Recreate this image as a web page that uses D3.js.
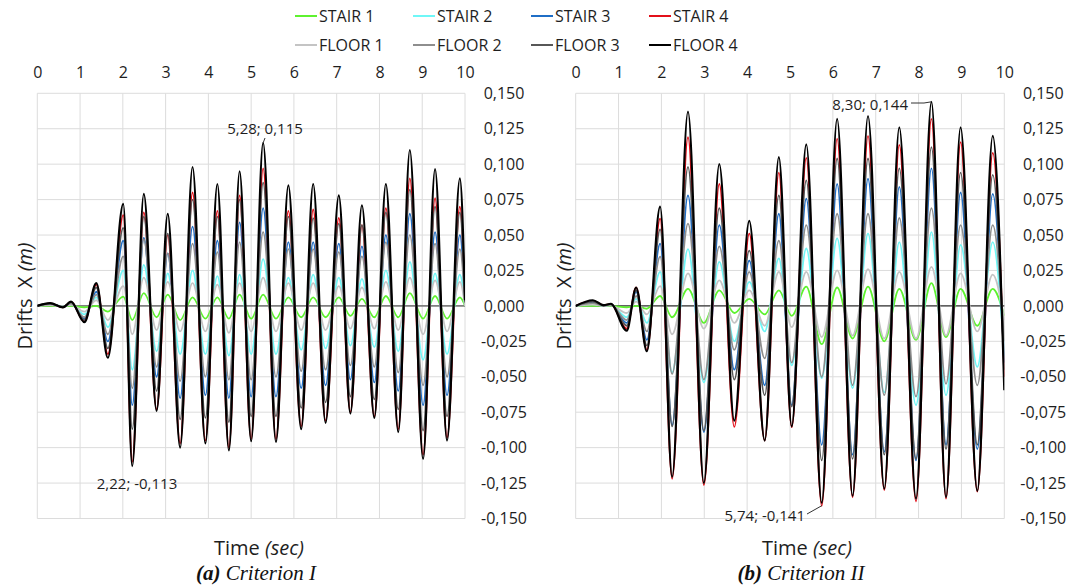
<!DOCTYPE html>
<html>
<head>
<meta charset="utf-8">
<script src="https://cdn.jsdelivr.net/npm/d3@7"></script>
<style>
  html, body { margin: 0; padding: 0; background: #ffffff; }
  svg { display: block; font-family: "Open Sans", "Noto Sans", sans-serif; }
</style>
</head>
<body>
<svg id="chart" width="1067" height="587"></svg>
<script>
// ---- axis ticks ----
const timeTicks = [0, 1, 2, 3, 4, 5, 6, 7, 8, 9, 10];
const driftTicks = [0.150, 0.125, 0.100, 0.075, 0.050, 0.025, 0, -0.025, -0.050, -0.075, -0.100, -0.125, -0.150];

// ---- series ----
const seriesNames = ["STAIR 1", "STAIR 2", "STAIR 3", "STAIR 4", "FLOOR 1", "FLOOR 2", "FLOOR 3", "FLOOR 4"];

// Criterion I: times of the turning points (s) and drifts (m)
const timeI = [0, 0.3, 0.6, 0.79, 1.1, 1.38, 1.65,
  2.01, 2.22, 2.49, 2.79, 3.05, 3.34, 3.63, 3.93, 4.21, 4.48, 4.73, 5.00, 5.28, 5.58,
  5.87, 6.17, 6.45, 6.74, 7.05, 7.32, 7.59, 7.88, 8.15, 8.44, 8.71, 9.02, 9.30, 9.58,
  9.88, 10];
const stair1I = [0, 0, 0, 0, -0.001, 0, -0.004,
  0.0066, -0.010, 0.009, -0.008, 0.008, -0.010, 0.006, -0.009, 0.006, -0.009, 0.008, -0.009, 0.008, -0.009,
  0.006, -0.008, 0.006, -0.008, 0.006, -0.007, 0.005, -0.008, 0.007, -0.008, 0.009, -0.009, 0.007, -0.009,
  0.006, 0];
const stair2I = [0, 0.001, -0.0004, 0.0012, -0.006, 0.006, -0.015,
  0.025, -0.045, 0.029, -0.032, 0.023, -0.034, 0.025, -0.034, 0.021, -0.035, 0.022, -0.034, 0.033, -0.034,
  0.020, -0.031, 0.022, -0.030, 0.020, -0.028, 0.019, -0.029, 0.025, -0.032, 0.031, -0.038, 0.023, -0.034,
  0.022, 0];
const stair3I = [0, 0.0014, -0.0006, 0.002, -0.009, 0.010, -0.025,
  0.046, -0.070, 0.048, -0.050, 0.037, -0.065, 0.056, -0.063, 0.046, -0.065, 0.059, -0.064, 0.069, -0.064,
  0.045, -0.058, 0.045, -0.056, 0.044, -0.052, 0.042, -0.054, 0.050, -0.060, 0.065, -0.070, 0.052, -0.063,
  0.050, 0.002];
const stair4I = [0, 0.0018, -0.001, 0.0028, -0.011, 0.015, -0.034,
  0.064, -0.110, 0.066, -0.073, 0.050, -0.097, 0.080, -0.095, 0.067, -0.100, 0.078, -0.094, 0.097, -0.094,
  0.067, -0.085, 0.068, -0.081, 0.062, -0.075, 0.057, -0.078, 0.069, -0.087, 0.090, -0.105, 0.076, -0.093,
  0.070, 0.004];
const floor1I = [0, 0.0006, -0.0002, 0.0008, -0.004, 0.004, -0.010,
  0.014, -0.020, 0.020, -0.017, 0.017, -0.018, 0.016, -0.018, 0.015, -0.019, 0.016, -0.018, 0.020, -0.018,
  0.016, -0.017, 0.016, -0.017, 0.014, -0.016, 0.013, -0.016, 0.017, -0.017, 0.020, -0.020, 0.018, -0.018,
  0.017, 0];
const floor2I = [0, 0.0012, -0.0005, 0.0016, -0.008, 0.008, -0.020,
  0.035, -0.058, 0.047, -0.043, 0.037, -0.053, 0.044, -0.050, 0.038, -0.052, 0.045, -0.052, 0.052, -0.050,
  0.040, -0.046, 0.040, -0.045, 0.038, -0.042, 0.035, -0.043, 0.045, -0.047, 0.050, -0.056, 0.044, -0.050,
  0.040, 0.002];
const floor3I = [0, 0.0017, -0.0008, 0.0025, -0.010, 0.013, -0.030,
  0.055, -0.087, 0.063, -0.060, 0.051, -0.080, 0.075, -0.079, 0.063, -0.082, 0.075, -0.078, 0.087, -0.078,
  0.063, -0.072, 0.062, -0.068, 0.058, -0.064, 0.057, -0.066, 0.066, -0.073, 0.082, -0.088, 0.070, -0.078,
  0.066, 0.003];
const floor4I = [0, 0.002, -0.001, 0.003, -0.0115, 0.016, -0.0366,
  0.072, -0.113, 0.079, -0.074, 0.065, -0.100, 0.098, -0.097, 0.086, -0.102, 0.095, -0.0955, 0.115, -0.096,
  0.085, -0.087, 0.086, -0.0825, 0.078, -0.076, 0.071, -0.079, 0.086, -0.089, 0.110, -0.108, 0.0965, -0.095,
  0.090, 0.004];

// Criterion II
const timeII = [0, 0.4, 0.65, 0.82, 1.19, 1.41, 1.66,
  1.97, 2.25, 2.62, 2.99, 3.35, 3.70, 4.05, 4.41, 4.74, 5.04, 5.38, 5.74,
  6.10, 6.46, 6.82, 7.20, 7.55, 7.94, 8.30, 8.64, 8.98, 9.37,
  9.73, 10];
const stair1II = [0, 0, 0, 0, -0.001, 0, -0.002,
  0.007, -0.008, 0.012, -0.012, 0.011, -0.005, 0.005, -0.006, 0.011, -0.007, 0.0136, -0.027,
  0.013, -0.023, 0.0136, -0.025, 0.012, -0.024, 0.016, -0.022, 0.012, -0.014,
  0.012, -0.007];
const stair2II = [0, 0.0015, 0.0001, 0.0006, -0.008, 0.005, -0.012,
  0.024, -0.047, 0.040, -0.054, 0.031, -0.025, 0.017, -0.018, 0.0335, -0.042, 0.0405, -0.051,
  0.0476, -0.058, 0.051, -0.061, 0.045, -0.070, 0.052, -0.063, 0.043, -0.043,
  0.045, -0.035];
const stair3II = [0, 0.0025, 0.0002, 0.001, -0.012, 0.010, -0.024,
  0.044, -0.084, 0.078, -0.089, 0.057, -0.045, 0.032, -0.056, 0.065, -0.070, 0.0757, -0.098,
  0.086, -0.105, 0.0897, -0.103, 0.084, -0.109, 0.097, -0.098, 0.080, -0.101,
  0.079, -0.040];
const stair4II = [0, 0.0035, 0.0004, 0.0013, -0.016, 0.013, -0.031,
  0.0616, -0.122, 0.119, -0.1265, 0.086, -0.0854, 0.051, -0.095, 0.094, -0.0856, 0.1045, -0.141,
  0.118, -0.135, 0.120, -0.130, 0.1136, -0.138, 0.132, -0.136, 0.1155, -0.131,
  0.108, -0.050];
const floor1II = [0, 0.001, 0, 0.0004, -0.005, 0.003, -0.006,
  0.014, -0.020, 0.023, -0.016, 0.018, -0.012, 0.011, -0.014, 0.024, -0.015, 0.024, -0.022,
  0.025, -0.021, 0.026, -0.023, 0.024, -0.023, 0.0276, -0.021, 0.023, -0.018,
  0.022, -0.010];
const floor2II = [0, 0.002, 0.0002, 0.0008, -0.010, 0.007, -0.018,
  0.0347, -0.048, 0.058, -0.052, 0.042, -0.031, 0.024, -0.037, 0.046, -0.040, 0.057, -0.050,
  0.065, -0.056, 0.065, -0.063, 0.062, -0.064, 0.069, -0.055, 0.057, -0.056,
  0.057, -0.025];
const floor3II = [0, 0.003, 0.0003, 0.0012, -0.014, 0.011, -0.028,
  0.054, -0.085, 0.098, -0.088, 0.069, -0.052, 0.039, -0.063, 0.078, -0.071, 0.0886, -0.109,
  0.104, -0.108, 0.104, -0.105, 0.097, -0.108, 0.112, -0.101, 0.094, -0.098,
  0.0925, -0.045];
const floor4II = [0, 0.004, 0.0005, 0.0015, -0.0175, 0.013, -0.032,
  0.070, -0.1206, 0.137, -0.125, 0.100, -0.081, 0.060, -0.095, 0.105, -0.085, 0.114, -0.139,
  0.132, -0.134, 0.134, -0.129, 0.126, -0.136, 0.144, -0.135, 0.126, -0.1305,
  0.120, -0.0595];

// Labelled extremes: [time, drift]
const peakI = [5.28, 0.115], troughI = [2.22, -0.113];
const peakII = [8.30, 0.144], troughII = [5.74, -0.141];

// ---- styling ----
const seriesColors = ["#5ef22f", "#6ff7f7", "#1f6ec6", "#e3101a", "#c4c4c4", "#8e8e8e", "#575757", "#000000"];
const seriesWidths = [1.8, 1.8, 1.8, 1.8, 1.8, 1.8, 1.8, 2.2];

const fmt = v => (v < 0 ? "-" : "") + Math.abs(v).toFixed(3).replace(".", ",");
const fmtPair = (t, v) => t.toFixed(2).replace(".", ",") + "; " + fmt(v);

const svg = d3.select("#chart");

const panels = [
  { left: 37.3, right: 465, times: timeI,
    values: [stair1I, stair2I, stair3I, stair4I, floor1I, floor2I, floor3I, floor4I],
    zeroColor: "#808080", zeroWidth: 1.8,
    timeLabelX: 259, captionX: 256, letter: "(a)", caption: " Criterion I",
    notes: [
      { pt: peakI, tx: 265, ty: 134, anchor: "middle", lead: [[265, 138]] },
      { pt: troughI, tx: 137, ty: 489, anchor: "middle", lead: null }
    ] },
  { left: 575.7, right: 1004.3, times: timeII,
    values: [stair1II, stair2II, stair3II, stair4II, floor1II, floor2II, floor3II, floor4II],
    zeroColor: "#333333", zeroWidth: 1.3,
    timeLabelX: 807, captionX: 801, letter: "(b)", caption: " Criterion II",
    notes: [
      { pt: peakII, tx: 908, ty: 110, anchor: "end", lead: [[911, 103], [924, 103]] },
      { pt: troughII, tx: 805, ty: 521, anchor: "end", lead: [[807, 514]] }
    ] }
];

const plotTop = 93.3, plotBottom = 518.5;

panels.forEach((p, pi) => {
  const x = d3.scaleLinear().domain([0, 10]).range([p.left, p.right]);
  const y = d3.scaleLinear().domain([-0.15, 0.15]).range([plotBottom, plotTop]);
  const g = svg.append("g");

  // grid
  g.append("g").selectAll("line").data(timeTicks).join("line")
    .attr("x1", d => x(d)).attr("x2", d => x(d))
    .attr("y1", plotTop).attr("y2", plotBottom)
    .attr("stroke", "#dcdcdc").attr("stroke-width", 1);
  g.append("g").selectAll("line").data(driftTicks).join("line")
    .attr("x1", p.left).attr("x2", p.right)
    .attr("y1", d => y(d)).attr("y2", d => y(d))
    .attr("stroke", "#dcdcdc").attr("stroke-width", 1);

  // zero line
  g.append("line")
    .attr("x1", p.left).attr("x2", p.right)
    .attr("y1", y(0)).attr("y2", y(0))
    .attr("stroke", p.zeroColor).attr("stroke-width", p.zeroWidth);

  // top time axis
  const ax = g.append("g").attr("transform", `translate(0,${plotTop})`)
    .call(d3.axisTop(x).tickValues(timeTicks).tickSize(0).tickPadding(15.5).tickFormat(d3.format("d")));
  ax.select(".domain").remove();
  ax.selectAll("text").attr("font-size", 16).attr("fill", "#1e1e1e")
    .attr("font-family", "'Open Sans', sans-serif");

  // right drift axis
  const ay = g.append("g").attr("transform", `translate(${p.right},0)`)
    .call(d3.axisRight(y).tickValues(driftTicks).tickSize(0).tickPadding(39).tickFormat(fmt));
  ay.select(".domain").remove();
  ay.selectAll("text").attr("font-size", 16).attr("fill", "#1e1e1e")
    .attr("text-anchor", "middle")
    .attr("font-family", "'Open Sans', sans-serif");

  // series
  const clipId = "clip" + pi;
  svg.append("clipPath").attr("id", clipId).append("rect")
    .attr("x", p.left).attr("y", plotTop).attr("width", p.right - p.left).attr("height", plotBottom - plotTop);
  const line = d3.line().curve(d3.curveMonotoneX)
    .x(d => x(d[0])).y(d => y(d[1]));
  const lg = g.append("g").attr("clip-path", `url(#${clipId})`);
  p.values.forEach((vals, si) => {
    const pts = p.times.map((t, i) => [t, vals[i]]);
    lg.append("path").datum(pts)
      .attr("d", line)
      .attr("fill", "none")
      .attr("stroke", seriesColors[si])
      .attr("stroke-width", seriesWidths[si])
      .attr("stroke-linejoin", "round");
  });

  // labelled extremes
  p.notes.forEach(n => {
    g.append("text").attr("x", n.tx).attr("y", n.ty)
      .attr("text-anchor", n.anchor).attr("font-size", 15).attr("fill", "#1e1e1e")
      .text(fmtPair(n.pt[0], n.pt[1]));
    if (n.lead) {
      const pts = n.lead.concat([[x(n.pt[0]), y(n.pt[1])]]);
      g.append("path").attr("d", d3.line()(pts))
        .attr("fill", "none").attr("stroke", "#333").attr("stroke-width", 1);
    }
  });

  // axis titles
  const tt = g.append("text").attr("x", p.timeLabelX).attr("y", 555)
    .attr("text-anchor", "middle").attr("font-size", 20).attr("fill", "#1e1e1e");
  tt.append("tspan").text("Time ");
  tt.append("tspan").attr("font-style", "italic").text("(sec)");

  const yt = g.append("text")
    .attr("transform", `translate(${p.left - 12},296) rotate(-90)`)
    .attr("text-anchor", "middle").attr("font-size", 20).attr("fill", "#1e1e1e")
    .attr("dy", "0.35em").style("white-space", "pre");
  yt.append("tspan").text("Drifts  X ");
  yt.append("tspan").attr("font-style", "italic").text("(m)");

  // caption
  const cap = g.append("text").attr("x", p.captionX).attr("y", 580)
    .attr("text-anchor", "middle").attr("font-size", 21)
    .attr("font-family", "'Liberation Serif', 'DejaVu Serif', serif")
    .attr("font-style", "italic").attr("fill", "#111");
  cap.append("tspan").attr("font-weight", "bold").text(p.letter);
  cap.append("tspan").text(p.caption);
});

// legend
const legendCols = [295, 413, 531, 649];
const legendRows = [16, 45];
const legend = svg.append("g");
seriesNames.forEach((name, i) => {
  const lx = legendCols[i % 4], ly = legendRows[Math.floor(i / 4)];
  legend.append("line").attr("x1", lx).attr("x2", lx + 22).attr("y1", ly).attr("y2", ly)
    .attr("stroke", seriesColors[i]).attr("stroke-width", 2);
  legend.append("text").attr("x", lx + 24).attr("y", ly).attr("dy", "0.36em")
    .attr("font-size", 16).attr("fill", "#1e1e1e").text(name);
});
</script>
</body>
</html>
